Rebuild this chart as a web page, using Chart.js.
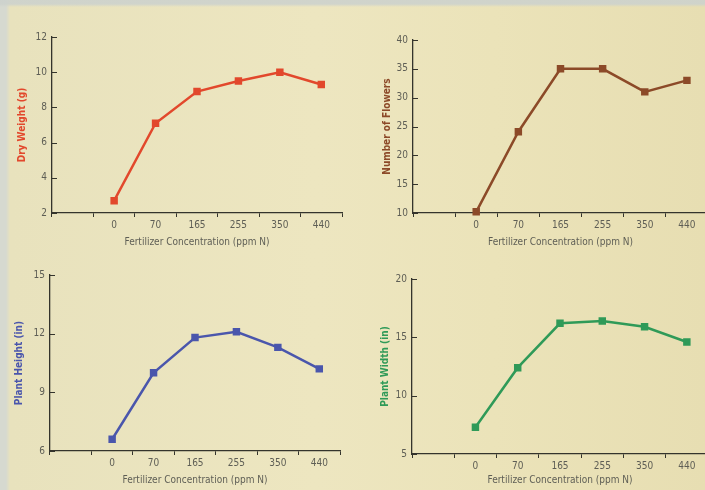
<!DOCTYPE html>
<html>
<head>
<meta charset="utf-8">
<script src="https://cdn.jsdelivr.net/npm/chart.js@4"></script>
<style>
  html, body { margin: 0; padding: 0; }
  body {
    width: 705px; height: 490px; position: relative; overflow: hidden;
    background:
      linear-gradient(to bottom, rgba(205,210,205,0.9) 0, rgba(205,210,205,0.9) 4px, rgba(0,0,0,0) 7px),
      linear-gradient(to right, #d6d9d0 0, #d6d9d0 6px, #e8e2bd 10px, #ede6c0 45%, #ebe3b9 70%, #e7deb2 100%);
  }
  canvas { position: absolute; }
</style>
</head>
<body>
<canvas id="c1" width="350" height="252" style="left:0;top:0"></canvas>
<canvas id="c2" width="362" height="252" style="left:352px;top:0"></canvas>
<canvas id="c3" width="350" height="232" style="left:0;top:258px"></canvas>
<canvas id="c4" width="362" height="232" style="left:352px;top:258px"></canvas>
<script>
// fertilizer concentration (ppm N); first slot left blank as in the book figure
const concLabels = ['', '0', '70', '165', '255', '350', '440'];

const dryWeight = [null, 2.7, 7.1, 8.9, 9.5, 10.0, 9.3];
const flowerCount = [null, 10.2, 24.1, 35.0, 35.0, 31.0, 33.0];
const plantHeight = [null, 6.6, 10.0, 11.8, 12.1, 11.3, 10.2];
const plantWidth = [null, 7.3, 12.4, 16.2, 16.4, 15.9, 14.6];

const xTitle = 'Fertilizer Concentration (ppm N)';
const narrow = "'Liberation Sans Narrow', 'DejaVu Sans Condensed', 'Arial Narrow', sans-serif";
const axisColor = '#34342c';
const tickColor = '#5e5e55';

// short tick marks pointing into the plot on the y axis
const innerTicks = {
    id: 'innerTicks',
    afterDraw(chart) {
        const ctx = chart.ctx;
        const y = chart.scales.y;
        ctx.save();
        ctx.strokeStyle = axisColor;
        ctx.lineWidth = 1;
        y.ticks.forEach((t, i) => {
            const py = Math.round(y.getPixelForTick(i)) + 0.5;
            ctx.beginPath();
            ctx.moveTo(y.right, py);
            ctx.lineTo(y.right + 5, py);
            ctx.stroke();
        });
        ctx.restore();
    }
};

function makeChart(id, values, color, yTitle, yMin, yMax, yStep, box) {
    const ctx = document.getElementById(id).getContext('2d');
    return new Chart(ctx, {
        type: 'line',
        data: {
            labels: concLabels,
            datasets: [{
                data: values,
                borderColor: color,
                backgroundColor: color,
                borderWidth: 2.5,
                pointStyle: 'rect',
                pointRadius: 3.5,
                pointHoverRadius: 3.5,
                clip: false
            }]
        },
        options: {
            responsive: false,
            animation: false,
            events: [],
            layout: { padding: { top: box.top, right: box.right, left: 0, bottom: 0 } },
            plugins: { legend: { display: false }, tooltip: { enabled: false } },
            scales: {
                x: {
                    offset: true,
                    grid: { offset: true, drawOnChartArea: false, tickLength: 4, color: axisColor },
                    border: { color: axisColor, width: 1.3 },
                    ticks: { color: tickColor, padding: 2, font: { family: narrow, size: 10 } },
                    title: {
                        display: true, text: xTitle, color: tickColor,
                        font: { family: narrow, size: 10 }, padding: { top: 0, bottom: 4 }
                    },
                    afterFit: s => { s.height = box.xh; }
                },
                y: {
                    min: yMin,
                    max: yMax,
                    grid: { drawOnChartArea: false, drawTicks: false },
                    border: { color: axisColor, width: 1.3 },
                    ticks: { stepSize: yStep, color: tickColor, padding: 5, font: { family: narrow, size: 10 } },
                    title: {
                        display: true, text: yTitle, color: color,
                        font: { family: narrow, size: 10, weight: 'bold' }, padding: { top: box.tp, bottom: 0 }
                    },
                    afterFit: s => { s.width = box.yw; }
                }
            }
        },
        plugins: [innerTicks]
    });
}

makeChart('c1', dryWeight, '#e2482c', 'Dry Weight (g)', 2, 12, 2,
    { top: 37, right: 8, xh: 39, yw: 52, tp: 16 });
makeChart('c2', flowerCount, '#8c4a28', 'Number of Flowers', 10, 40, 5,
    { top: 40, right: 2, xh: 39, yw: 61, tp: 29 });
makeChart('c3', plantHeight, '#4a56ac', 'Plant Height (in)', 6, 15, 3,
    { top: 17, right: 10, xh: 39, yw: 50, tp: 13 });
makeChart('c4', plantWidth, '#2f9a58', 'Plant Width (in)', 5, 20, 5,
    { top: 21, right: 2, xh: 36, yw: 60, tp: 27 });
</script>
</body>
</html>
